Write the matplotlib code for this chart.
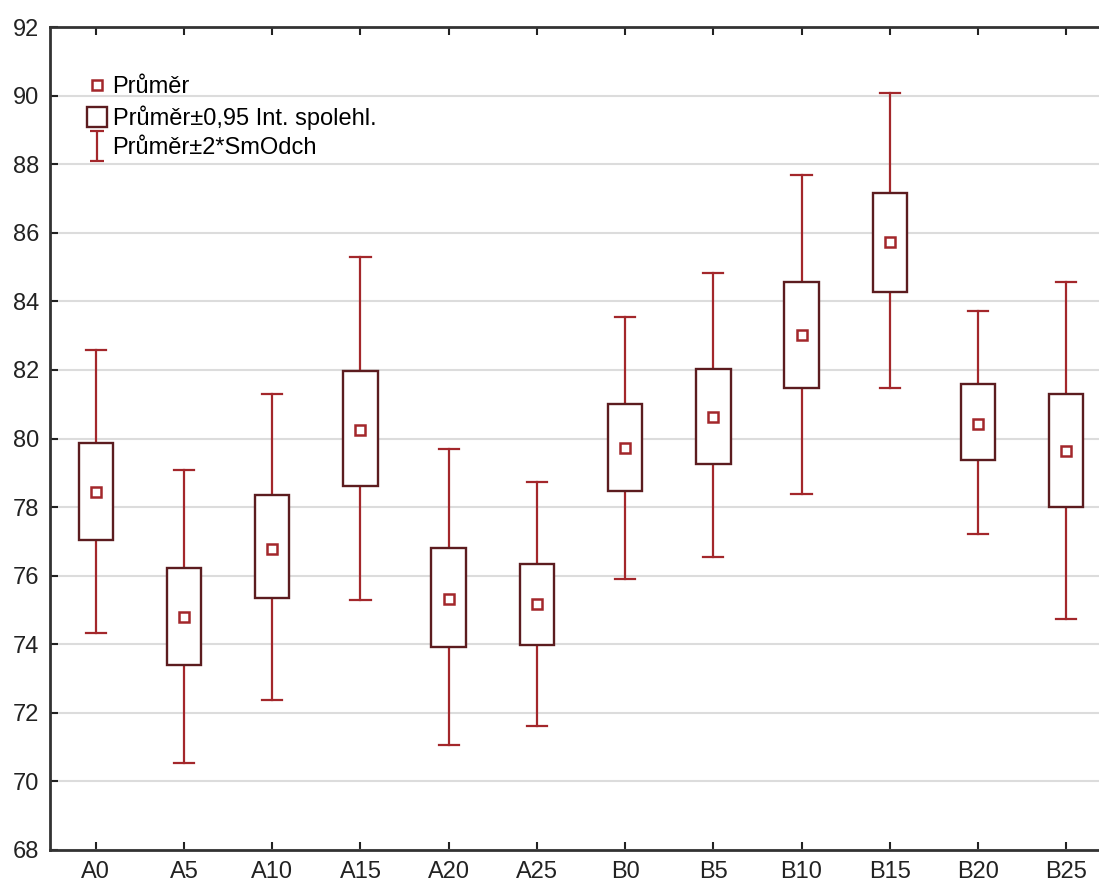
import matplotlib
matplotlib.use("Agg")
import matplotlib.pyplot as plt
from matplotlib.lines import Line2D
from matplotlib.path import Path
from matplotlib.patches import Rectangle

plt.rcParams['font.family'] = ['Liberation Sans', 'DejaVu Sans']

groups = ["A0", "A5", "A10", "A15", "A20", "A25", "B0", "B5", "B10", "B15", "B20", "B25"]
means = [78.44, 74.79, 76.78, 80.25, 75.32, 75.17, 79.72, 80.63, 83.02, 85.73, 80.42, 79.63]
ci_low = [77.04, 73.39, 75.35, 78.61, 73.92, 73.98, 78.47, 79.26, 81.47, 84.27, 79.37, 78.00]
ci_high = [79.87, 76.22, 78.35, 81.97, 76.81, 76.34, 81.01, 82.03, 84.56, 87.16, 81.59, 81.30]
sd2_low = [74.33, 70.54, 72.37, 75.29, 71.06, 71.62, 75.90, 76.54, 78.38, 81.47, 77.21, 74.74]
sd2_high = [82.58, 79.08, 81.30, 85.29, 79.69, 78.73, 83.54, 84.83, 87.68, 90.08, 83.72, 84.56]
yticks = list(range(68, 93, 2))

whisker_c = "#a3272b"
box_c = "#5c1c1f"
mean_c = "#a3272b"

fig = plt.figure(figsize=(10.99, 8.89), dpi=100)
ax = fig.add_axes([50 / 1099, 39 / 889, 1062 / 1099, 823 / 889])

box_w = 0.39
cap_w = 0.23
for i, g in enumerate(groups):
    # whiskers: mean +/- 2 SD
    ax.plot([i, i], [sd2_low[i], ci_low[i]], color=whisker_c, lw=1.6, zorder=3)
    ax.plot([i, i], [ci_high[i], sd2_high[i]], color=whisker_c, lw=1.6, zorder=3)
    for yv in (sd2_low[i], sd2_high[i]):
        ax.plot([i - cap_w / 2, i + cap_w / 2], [yv, yv], color=whisker_c, lw=1.6, zorder=3)
    # 95% confidence interval box
    ax.add_patch(Rectangle((i - box_w / 2, ci_low[i]), box_w, ci_high[i] - ci_low[i],
                           facecolor="white", edgecolor=box_c, lw=1.7, zorder=4))
    # mean
    ax.plot(i, means[i], marker="s", ms=7, mfc="white", mec=mean_c, mew=1.8, zorder=5)

ax.set_xlim(-0.52, 11.52)
ax.set_ylim(68, 92)
ax.set_xticks(range(len(groups)))
ax.set_xticklabels(groups)
ax.set_yticks(yticks)
ax.yaxis.grid(True, color="#dcdcdc", lw=1.5)
ax.set_axisbelow(True)
ax.tick_params(direction="in", length=6, width=1.5, labelsize=17, colors="#222222",
               top=True, right=True, pad=8)
for s in ax.spines.values():
    s.set_linewidth(2)
    s.set_color("#333333")

# legend
ibeam = Path([(-0.5, 1), (0.5, 1), (0, 1), (0, -1), (-0.5, -1), (0.5, -1)],
             [Path.MOVETO, Path.LINETO, Path.MOVETO, Path.LINETO, Path.MOVETO, Path.LINETO])
handles = [
    Line2D([], [], ls="none", marker="s", ms=7, mfc="white", mec=mean_c, mew=1.8),
    Line2D([], [], ls="none", marker="s", ms=14, mfc="white", mec=box_c, mew=1.7),
    Line2D([], [], ls="none", marker=ibeam, ms=21, mfc="none", mec=whisker_c, mew=1.6),
]
labels = ["Průměr", "Průměr±0,95 Int. spolehl.", "Průměr±2*SmOdch"]
ax.legend(handles, labels, loc="upper left", bbox_to_anchor=(0.02, 0.96), frameon=False,
          fontsize=17, handlelength=0.8, handletextpad=0.25, labelspacing=0.3,
          borderpad=0.2)

fig.savefig("out.png", dpi=100)
